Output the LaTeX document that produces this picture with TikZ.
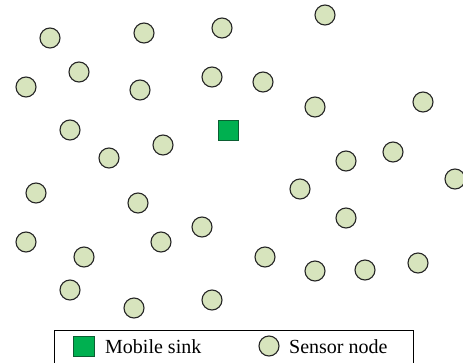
\documentclass[tikz,border=0pt]{standalone}
\usepackage{fontspec}
\newfontfamily\legendfont{Liberation Serif}
\definecolor{nodefill}{HTML}{D7E4BD}
\definecolor{sinkfill}{HTML}{00B050}
\definecolor{sinkline}{HTML}{0B5E32}
\begin{document}
\begin{tikzpicture}[x=1pt,y=-1pt,
  sensor/.style={circle,draw=black!85,line width=1.1pt,fill=nodefill,minimum size=20pt,inner sep=0pt},
  sink/.style={rectangle,draw=sinkline,line width=1pt,fill=sinkfill,minimum size=20.5pt,inner sep=0pt},
  legendtext/.style={anchor=base west,inner sep=0pt,font=\legendfont\fontsize{20}{24}\selectfont}]
\useasboundingbox (0,0) rectangle (463,362);
% legend text first, before any clipping
\node[legendtext] (lsinktext) at (105,353) {Mobile sink};
\node[legendtext] (lsensortext) at (289,353) {Sensor node};
\begin{scope}
\clip (0,0) rectangle (463,362);
% sensor field
\foreach \x/\y [count=\i] in {50/38,144/33,222/28,325/15,26/87,79/72,140/90,212/77,263/82,315/107,423/102,
  70/130,109/158,163/145,346/161,393/152,455/179,36/193,138/203,300/189,346/218,
  26/242,84/257,161/242,202/227,265/257,315/271,365/270,418/263,70/290,134/308,212/300}
  \node[sensor] (s\i) at (\x,\y) {};
% mobile sink
\node[sink] (sink) at (228.5,130.5) {};
% legend frame and symbols
\node[draw=black,line width=1.4pt,minimum width=359pt,minimum height=40pt,inner sep=0pt,anchor=north west] (legend) at (54,330) {};
\node[sink,minimum width=21pt,minimum height=19.5pt] (lsink) at (84,346.5) {};
\node[sensor] (lsensor) at (269,346) {};
\end{scope}
\end{tikzpicture}
\end{document}
